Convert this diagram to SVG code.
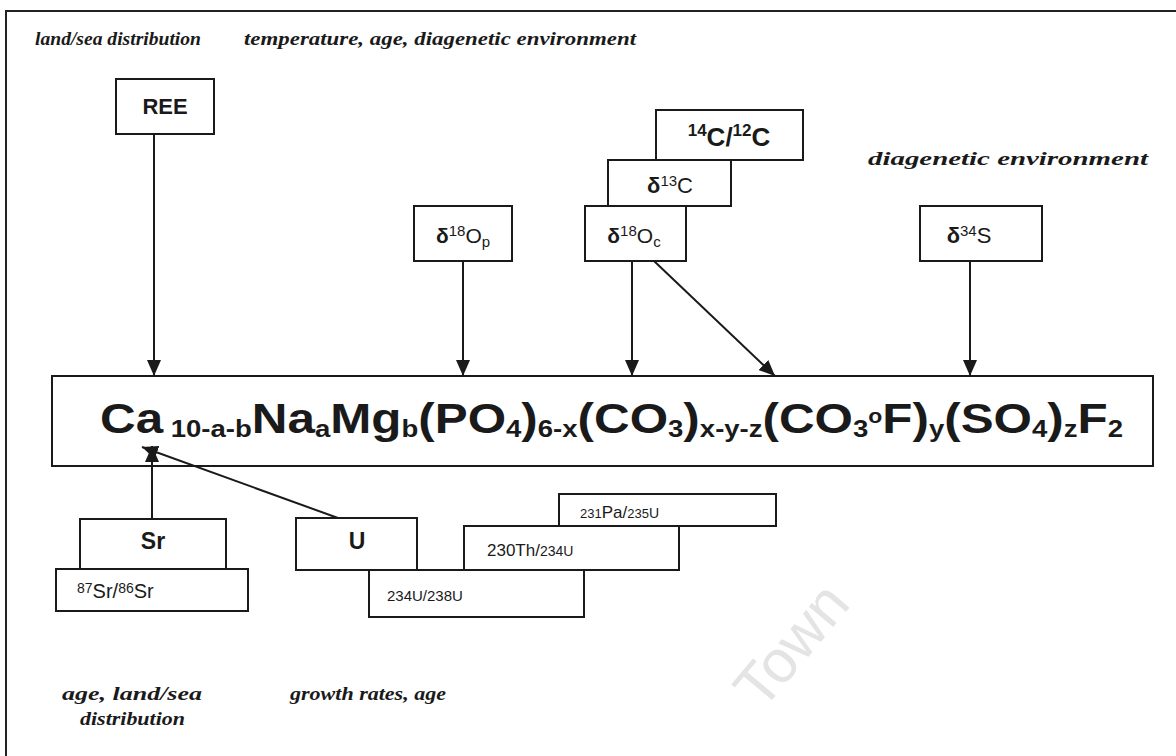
<svg xmlns="http://www.w3.org/2000/svg" width="1176" height="756" viewBox="0 0 1176 756">
<style>
.bg{fill:#fff}
.frame{fill:none;stroke:#222;stroke-width:2}
.box{fill:#fff;stroke:#1a1a1a;stroke-width:2}
.lbl{font-family:"Liberation Serif",serif;font-weight:bold;font-style:italic;font-size:19px;fill:#1a1a1a}
.bt{font-family:"Liberation Sans",Arial,sans-serif;font-weight:bold;fill:#1a1a1a}
.rt{font-family:"Liberation Sans",Arial,sans-serif;fill:#1a1a1a}
.conn line{stroke:#1a1a1a;stroke-width:2;marker-end:url(#ah)}
.wm{font-family:"Liberation Sans",Arial,sans-serif;font-size:60px;fill:#e4e4e4}
</style>
<defs>
<marker id="ah" viewBox="0 0 16 14" refX="16" refY="7" markerWidth="16" markerHeight="14" orient="auto" markerUnits="userSpaceOnUse">
<path d="M0,0 L16,7 L0,14 z" fill="#1a1a1a"/>
</marker>
</defs>
<rect class="bg" x="0" y="0" width="1176" height="756"/>
<path class="frame" d="M6,756 V11 H1176"/>

<text class="wm" x="0" y="0" transform="translate(762,712) rotate(-50)">Town</text>

<g id="labels">
<text class="lbl" x="35" y="45" textLength="166" lengthAdjust="spacingAndGlyphs">land/sea distribution</text>
<text class="lbl" x="244" y="45" textLength="392" lengthAdjust="spacingAndGlyphs">temperature, age, diagenetic environment</text>
<text class="lbl" x="868" y="165" textLength="280" lengthAdjust="spacingAndGlyphs">diagenetic environment</text>
<text class="lbl" x="62" y="700" textLength="140" lengthAdjust="spacingAndGlyphs">age, land/sea</text>
<text class="lbl" x="80" y="725" textLength="105" lengthAdjust="spacingAndGlyphs">distribution</text>
<text class="lbl" x="290" y="700" textLength="156" lengthAdjust="spacingAndGlyphs">growth rates, age</text>
</g>

<g id="node-ree">
<rect class="box" x="116" y="79" width="98" height="55"/>
<text class="bt" x="165" y="114" font-size="22" text-anchor="middle">REE</text>
</g>

<g id="node-c14">
<rect class="box" x="656" y="110" width="147" height="50"/>
<text class="bt" x="729" y="146" font-size="26" text-anchor="middle"><tspan font-size="17" dy="-10">14</tspan><tspan dy="10">C/</tspan><tspan font-size="17" dy="-10">12</tspan><tspan dy="10">C</tspan></text>
</g>

<g id="node-d13c">
<rect class="box" x="608" y="160" width="123" height="46"/>
<text class="rt" x="670" y="193" font-size="22" text-anchor="middle"><tspan font-weight="bold">δ</tspan><tspan font-size="15" dy="-7">13</tspan><tspan dy="7">C</tspan></text>
</g>

<g id="node-d18op">
<rect class="box" x="414" y="206" width="98" height="55"/>
<text class="rt" x="463" y="243" font-size="21" text-anchor="middle"><tspan font-weight="bold">δ</tspan><tspan font-size="15" dy="-7">18</tspan><tspan dy="7">O</tspan><tspan font-size="15" dy="4">p</tspan></text>
</g>

<g id="node-d18oc">
<rect class="box" x="585" y="206" width="101" height="55"/>
<text class="rt" x="634" y="243" font-size="21" text-anchor="middle"><tspan font-weight="bold">δ</tspan><tspan font-size="15" dy="-7">18</tspan><tspan dy="7">O</tspan><tspan font-size="15" dy="4">c</tspan></text>
</g>

<g id="node-d34s">
<rect class="box" x="920" y="206" width="122" height="55"/>
<text class="rt" x="969" y="243" font-size="22" text-anchor="middle"><tspan font-weight="bold">δ</tspan><tspan font-size="15" dy="-7">34</tspan><tspan dy="7">S</tspan></text>
</g>

<g id="node-formula">
<rect class="box" x="52" y="376" width="1101" height="90"/>
<text class="bt" x="100" y="433" font-size="43" textLength="1023" lengthAdjust="spacingAndGlyphs">Ca<tspan font-size="24" dy="4"> 10-a-b</tspan><tspan dy="-4">Na</tspan><tspan font-size="24" dy="4">a</tspan><tspan dy="-4">Mg</tspan><tspan font-size="24" dy="4">b</tspan><tspan dy="-4">(PO</tspan><tspan font-size="24" dy="4">4</tspan><tspan dy="-4">)</tspan><tspan font-size="24" dy="4">6-x</tspan><tspan dy="-4">(CO</tspan><tspan font-size="24" dy="4">3</tspan><tspan dy="-4">)</tspan><tspan font-size="24" dy="4">x-y-z</tspan><tspan dy="-4">(CO</tspan><tspan font-size="24" dy="4">3</tspan><tspan font-size="20" dy="-14">o</tspan><tspan dy="10">F)</tspan><tspan font-size="24" dy="4">y</tspan><tspan dy="-4">(SO</tspan><tspan font-size="24" dy="4">4</tspan><tspan dy="-4">)</tspan><tspan font-size="24" dy="4">z</tspan><tspan dy="-4">F</tspan><tspan font-size="24" dy="4">2</tspan></text>
</g>

<g id="node-sr">
<rect class="box" x="80" y="519" width="146" height="50"/>
<text class="bt" x="153" y="549" font-size="23" text-anchor="middle">Sr</text>
</g>

<g id="node-sr87">
<rect class="box" x="56" y="569" width="192" height="42"/>
<text class="rt" x="77" y="598" font-size="20"><tspan font-size="14" dy="-5">87</tspan><tspan dy="5">Sr/</tspan><tspan font-size="14" dy="-5">86</tspan><tspan dy="5">Sr</tspan></text>
</g>

<g id="node-u">
<rect class="box" x="296" y="518" width="121" height="52"/>
<text class="bt" x="357" y="549" font-size="23" text-anchor="middle">U</text>
</g>

<g id="node-pa231">
<rect class="box" x="559" y="494" width="217" height="32"/>
<text class="rt" x="580" y="518" font-size="17"><tspan font-size="13">231</tspan>Pa/<tspan font-size="13">235</tspan><tspan font-size="14">U</tspan></text>
</g>

<g id="node-th230">
<rect class="box" x="464" y="526" width="215" height="44"/>
<text class="rt" x="487" y="556" font-size="17">230Th/<tspan font-size="14">234U</tspan></text>
</g>

<g id="node-u234">
<rect class="box" x="369" y="570" width="215" height="47"/>
<text class="rt" x="387" y="601" font-size="15">234U/238U</text>
</g>

<g id="connectors" class="conn">
<line x1="154" y1="134" x2="154" y2="376"/>
<line x1="463" y1="261" x2="463" y2="376"/>
<line x1="632" y1="261" x2="632" y2="376"/>
<line x1="654" y1="261" x2="775" y2="376"/>
<line x1="970" y1="261" x2="970" y2="376"/>
<line x1="152" y1="519" x2="152" y2="446"/>
<line x1="338" y1="518" x2="142" y2="447"/>
</g>
</svg>
